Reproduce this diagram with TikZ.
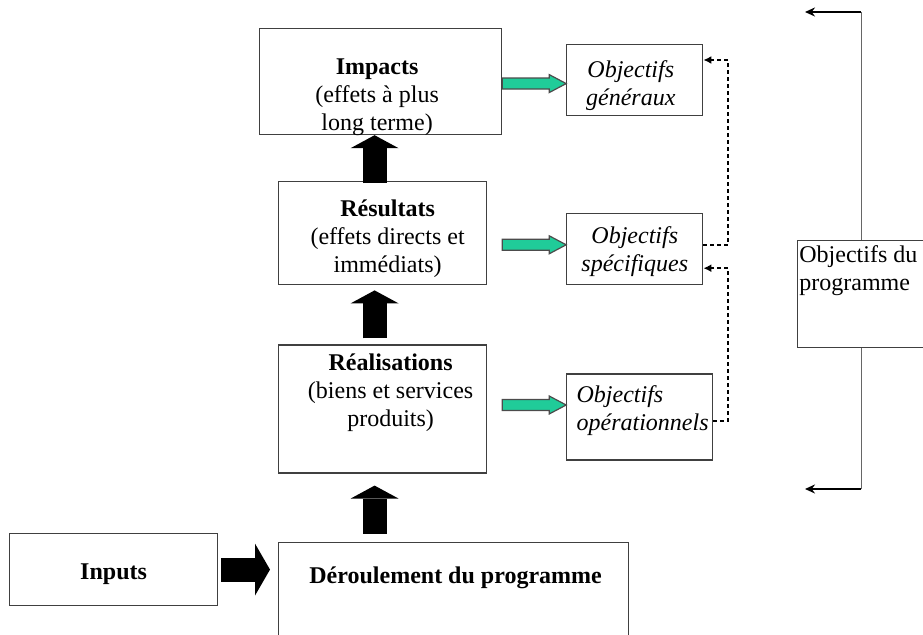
\documentclass[tikz,border=0pt]{standalone}
\usepackage{fontspec}
\setmainfont{Liberation Serif}
\usetikzlibrary{positioning, arrows.meta, calc}
\definecolor{goalgreen}{RGB}{32,204,153}

\begin{document}
\begin{tikzpicture}[x=0.5pt, y=-0.5pt,
    box/.style={draw=black!75, line width=0.6pt, inner sep=0pt},
    txt/.style={anchor=north, align=center, inner sep=0pt, font=\fontsize{12}{14}\selectfont},
    itxt/.style={txt, font=\fontsize{12}{14}\selectfont\itshape},
    txtl/.style={txt, anchor=north west, align=left},
    blockarr/.style={line width=12pt, -{Triangle[width=24pt, length=6.5pt, line width=0pt]}},
    goalarr/.style={draw=black!70, line width=0.6pt, fill=goalgreen},
    dashlink/.style={line width=1pt, dash pattern=on 2pt off 1.5pt, -{Latex[length=4pt, width=4pt]}},
    progline/.style={draw=black!60, line width=0.5pt},
    progarr/.style={line width=1pt, -{Stealth[length=5pt, width=4.5pt]}}]

  \useasboundingbox (0,0) rectangle (923,635);
  \clip (0,0) rectangle (923,635);

  % Chain of the programme
  \node[box, anchor=north west, minimum width=121pt, minimum height=53pt,
        label={[txt, xshift=-1.75pt, yshift=-15pt]north:{\textbf{Impacts}\\(effets à plus\\long terme)}}]
        (imp) at (259,28) {};
  \node[box, minimum width=104pt, minimum height=51.5pt, below=23pt of imp, xshift=1pt,
        label={[txt, xshift=2.5pt, yshift=-9pt]north:{\textbf{Résultats}\\(effets directs et\\immédiats)}}]
        (res) {};
  \node[box, minimum width=104pt, minimum height=64pt, below=29.5pt of res,
        label={[txt, xshift=4pt, yshift=-4.5pt]north:{\textbf{Réalisations}\\(biens et services\\produits)}}]
        (real) {};
  \node[box, minimum width=175pt, minimum height=60pt, below=34pt of real.south west, anchor=north west,
        label={[txt, xshift=1pt, yshift=-12.5pt]north:{\textbf{Déroulement du programme}}}]
        (der) {};
  \node[box, anchor=north west, minimum width=104pt, minimum height=36pt,
        label={[txt, yshift=-15pt]north:{\textbf{Inputs}}}]
        (inp) at (9,533) {};

  % Objectives
  \node[box, minimum width=68pt, minimum height=35.5pt, right=32pt of imp, yshift=0.75pt,
        label={[itxt, xshift=-2pt, yshift=-8pt]north:{Objectifs\\généraux}}]
        (objg) {};
  \node[box, minimum width=68pt, minimum height=35.5pt, below=48.5pt of objg,
        label={[itxt, yshift=-6.5pt]north:{Objectifs\\spécifiques}}]
        (objs) {};
  \node[box, minimum width=73pt, minimum height=43pt, below=44pt of objs, xshift=2.5pt,
        label={[itxt, anchor=north west, align=left, xshift=5pt, yshift=-6pt]north west:{Objectifs\\opérationnels}}]
        (objo) {};
  \node[box, anchor=north west, minimum width=100pt, minimum height=53.5pt,
        label={[txtl, xshift=1pt, yshift=-2.5pt]north west:{Objectifs du\\programme}}]
        (prog) at (797,240) {};

  % Black arrows
  \draw[blockarr] ($(res.north)+(-8,2)$) -- ($(imp.south)+(-6,0)$);
  \draw[blockarr] ($(real.north)+(-8,-6)$) -- ($(res.south)+(-8,5)$);
  \draw[blockarr] ($(real.south |- der.north)+(-8,-8)$) -- ($(real.south)+(-8,12)$);
  \draw[line width=12pt, -{Triangle[width=26pt, length=7.5pt, line width=0pt]}]
    ($(inp.east)+(3,0)$) -- ($(der.west |- inp.east)+(-8,0)$);

  % Green arrows
  \draw[goalarr] ($(objg.west)+(0,3.5)$) -- ++(-17,-9) -- ++(0,3.5) -- ++(-47,0)
    -- ++(0,11) -- ++(47,0) -- ++(0,3.5) -- cycle;
  \draw[goalarr] ($(objs.west)+(0,-4.5)$) -- ++(-17,-9) -- ++(0,3.5) -- ++(-47,0)
    -- ++(0,11) -- ++(47,0) -- ++(0,3.5) -- cycle;
  \draw[goalarr] ($(objo.west)+(0,-12)$) -- ++(-17,-9) -- ++(0,3.5) -- ++(-47,0)
    -- ++(0,11) -- ++(47,0) -- ++(0,3.5) -- cycle;

  % Dashed links
  \draw[dashlink] ($(objs.east)+(0,-4.5)$) -- ++(25,0) |- ($(objg.north east)+(0,16)$);
  \draw[dashlink] ($(objo.east)+(0,4)$) -- ++(15,0) |- ($(objs.north east)+(0,55)$);

  % Programme bracket
  \coordinate (ptop) at (861,12);
  \coordinate (pbot) at (861,489);
  \coordinate (ltop) at (805,12);
  \coordinate (lbot) at (805,489);
  \draw[progline] (prog.north -| ptop) -- (ptop);
  \draw[progline] (prog.south -| pbot) -- (pbot);
  \draw[progarr] (ptop) -- (ltop);
  \draw[progarr] (pbot) -- (lbot);
\end{tikzpicture}
\end{document}
